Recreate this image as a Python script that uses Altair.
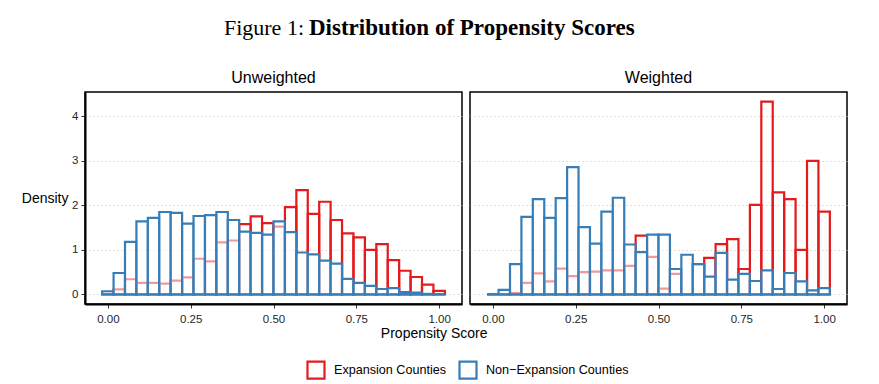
import altair as alt
import pandas as pd

# ---- data ----
N_BINS = 30
BIN_W = 1 / 29
bin_center = [k / 29 for k in range(N_BINS)]

GROUPS = ["Expansion Counties", "Non\u2212Expansion Counties"]
COLORS = ["#E41A1C", "#377EB8"]

unweighted_exp = [0.01, 0.11, 0.34, 0.26, 0.26, 0.24, 0.31, 0.38, 0.80, 0.74,
                  1.17, 1.21, 1.58, 1.75, 1.60, 1.52, 1.96, 2.34, 1.81, 2.08,
                  1.67, 1.37, 1.28, 1.00, 1.13, 0.77, 0.53, 0.39, 0.22, 0.08]
unweighted_non = [0.07, 0.48, 1.18, 1.64, 1.72, 1.85, 1.83, 1.59, 1.76, 1.78,
                  1.85, 1.67, 1.41, 1.38, 1.34, 1.64, 1.40, 0.94, 0.90, 0.76,
                  0.69, 0.35, 0.26, 0.19, 0.12, 0.14, 0.05, 0.04, 0.01, 0.00]
weighted_exp = [0.00, 0.00, 0.03, 0.26, 0.47, 0.29, 0.58, 0.41, 0.50, 0.51,
                0.54, 0.54, 0.64, 1.32, 0.84, 0.13, 0.46, 0.00, 0.68, 0.82,
                1.13, 1.24, 0.57, 2.01, 4.33, 2.29, 2.14, 1.00, 3.00, 1.86]
weighted_non = [0.00, 0.10, 0.68, 1.74, 2.14, 1.72, 2.16, 2.86, 1.51, 1.14,
                1.86, 2.17, 1.12, 0.95, 1.34, 1.34, 0.57, 0.89, 0.68, 0.40,
                0.93, 0.33, 0.46, 0.30, 0.54, 0.12, 0.48, 0.29, 0.09, 0.14]

x_ticks = [0, 0.25, 0.5, 0.75, 1.0]
y_ticks = [0, 1, 2, 3, 4]
panel_titles = ["Unweighted", "Weighted"]
title_parts = ["Figure 1:", "Distribution of Propensity Scores"]
x_title = "Propensity Score"
y_title = "Density"


def frame(exp, non):
    rows = []
    for g, vals in zip(GROUPS, [exp, non]):
        for c, v in zip(bin_center, vals):
            rows.append({"group": g, "lo": c - BIN_W / 2, "hi": c + BIN_W / 2,
                         "density": v, "base": 0.0})
    return pd.DataFrame(rows)


SANS = "Liberation Sans"
XDOM = [-0.069, 1.069]
YDOM = [-0.2165, 4.546]
W, H = 377, 212

legend = alt.Legend(
    orient="none", legendX=221, legendY=342, direction="horizontal", title=None,
    symbolType="square", symbolSize=289, symbolStrokeWidth=2.2,
    symbolFillColor="white", symbolOpacity=1, labelFontSize=12.6, labelFont=SANS,
    labelColor="black", labelOffset=8, columnPadding=8, padding=0,
)


def panel(df, title, left):
    xscale = alt.Scale(domain=XDOM, nice=False, zero=False)
    yscale = alt.Scale(domain=YDOM, nice=False, zero=False)
    xaxis = alt.Axis(values=x_ticks, format=".2f", title=None, grid=False,
                     domainColor="black", domainWidth=2, tickColor="#333333",
                     tickSize=4, tickWidth=1, labelColor="#262626",
                     labelFontSize=11.5, labelFont=SANS, labelPadding=5)
    if left:
        yaxis = alt.Axis(values=y_ticks, format="d", title=y_title, titleAngle=0,
                         titleAlign="right", titleBaseline="middle",
                         titleX=-17, titleY=H / 2, titleFontSize=14,
                         titleFont=SANS, titleFontWeight="normal",
                         titleColor="black", grid=True, gridDash=[1, 3],
                         gridColor="#BFBFBF", gridWidth=1.2,
                         domainColor="black", domainWidth=2,
                         tickColor="#333333", tickSize=4, tickWidth=1,
                         labelColor="#262626", labelFontSize=11.5,
                         labelFont=SANS, labelPadding=3)
    else:
        yaxis = alt.Axis(values=y_ticks, labels=False, ticks=False, domain=False,
                         title=None, grid=True, gridDash=[1, 3],
                         gridColor="#BFBFBF", gridWidth=1.2)
    stroke = alt.Stroke("group:N", scale=alt.Scale(domain=GROUPS, range=COLORS),
                        legend=legend)
    base = alt.Chart(df)
    enc = dict(
        x=alt.X("lo:Q", scale=xscale, axis=xaxis),
        x2="hi:Q",
        y=alt.Y("density:Q", scale=yscale, axis=yaxis),
        y2="base:Q",
        stroke=stroke,
    )
    red = (base.transform_filter(alt.FieldEqualPredicate(field="group", equal=GROUPS[0]))
           .mark_rect(fill="white", fillOpacity=0, strokeWidth=2.2)
           .encode(**enc))
    blue = (base.transform_filter(alt.FieldEqualPredicate(field="group", equal=GROUPS[1]))
            .mark_rect(fill="white", fillOpacity=0.55, strokeWidth=2.2)
            .encode(**enc))
    return alt.layer(red, blue).properties(
        width=W, height=H,
        view=alt.ViewBackground(stroke="black", strokeWidth=1.5),
        title=alt.TitleParams(title, fontSize=16, font=SANS, fontWeight="normal",
                              color="black", anchor="middle", offset=-7,
                              baseline="alphabetic"),
    )


left = panel(frame(unweighted_exp, unweighted_non), panel_titles[0], True)
right = panel(frame(weighted_exp, weighted_non), panel_titles[1], False)

body = alt.hconcat(left, right, spacing=6).properties(
    title=alt.TitleParams(x_title, orient="bottom", anchor="middle", fontSize=14,
                          font=SANS, fontWeight="normal", color="black", offset=2)
)

title_df = pd.DataFrame({"normal": [title_parts[0]], "bold": [title_parts[1]]})
h1 = alt.Chart(title_df).mark_text(
    align="right", baseline="alphabetic", font="Liberation Serif", fontSize=22,
    fontWeight="normal", color="black"
).encode(text="normal:N", x=alt.value(219), y=alt.value(16.5))
h2 = alt.Chart(title_df).mark_text(
    align="left", baseline="alphabetic", font="Liberation Serif", fontSize=23,
    fontWeight="bold", color="black"
).encode(text="bold:N", x=alt.value(224), y=alt.value(16.5))
header = alt.layer(h1, h2).properties(
    width=700, height=22, view=alt.ViewBackground(strokeWidth=0)
)

chart = (
    alt.vconcat(header, body, spacing=29)
    .properties(padding={"left": 12, "top": 8, "right": 5, "bottom": 0},
                background="white")
    .configure_view(strokeWidth=0)
)

chart.save("out.html", embed_options={"renderer": "svg", "actions": False})
